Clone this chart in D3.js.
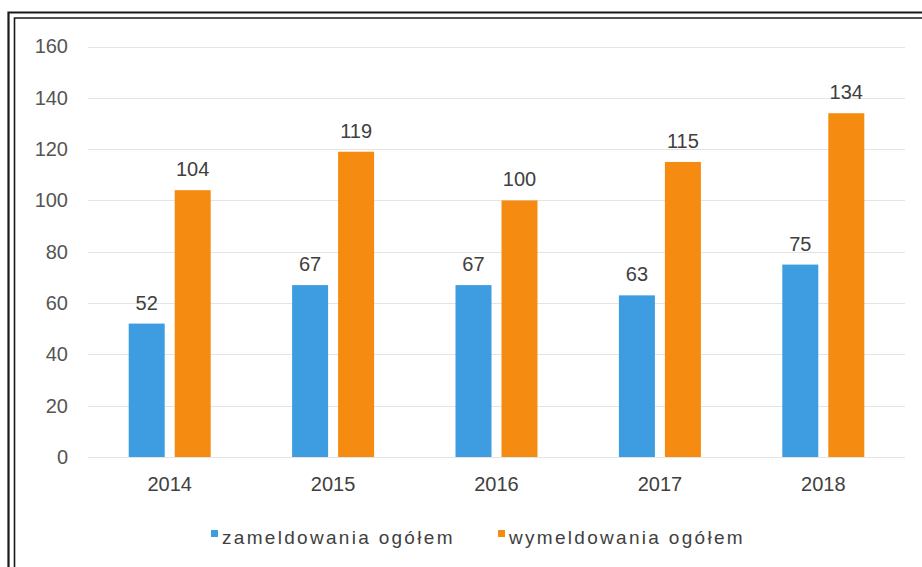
<!DOCTYPE html>
<html>
<head>
<meta charset="utf-8">
<script src="https://cdn.jsdelivr.net/npm/d3@7"></script>
<style>
  html, body { margin: 0; padding: 0; background: #fff; }
  svg { display: block; font-family: "Liberation Sans", Arial, sans-serif; }
</style>
</head>
<body>
<svg id="chart" width="922" height="567"></svg>
<script>
const years = ["2014", "2015", "2016", "2017", "2018"];
const seriesNames = ["zameldowania ogółem", "wymeldowania ogółem"];
const zameldowania = [52, 67, 67, 63, 75];
const wymeldowania = [104, 119, 100, 115, 134];
const yTicks = [0, 20, 40, 60, 80, 100, 120, 140, 160];
const colors = ["#3d9de0", "#f68b12"];

const seriesValues = [zameldowania, wymeldowania];
const svg = d3.select("#chart");

// frame (double line)
svg.append("path").attr("d", "M8.5,567 L8.5,12.5 L922,12.5")
  .attr("fill", "none").attr("stroke", "#1a1a1a").attr("stroke-width", 2.2);
svg.append("path").attr("d", "M14.5,567 L14.5,18 L922,18")
  .attr("fill", "none").attr("stroke", "#1a1a1a").attr("stroke-width", 1.6);

const plotLeft = 88, plotRight = 905, plotTop = 46.5, plotBottom = 457;
const y = d3.scaleLinear().domain([0, 160]).range([plotBottom, plotTop]);
const x0 = d3.scaleBand().domain(years).range([plotLeft, plotRight]).paddingInner(0).paddingOuter(0);
const bw = x0.bandwidth();
const x1 = d3.scaleBand().domain(seriesNames)
  .range([bw / 2 - 41, bw / 2 + 41]).paddingInner(10 / 46).paddingOuter(0);

// gridlines
const grid = svg.append("g");
grid.selectAll("line").data(yTicks).join("line")
  .attr("x1", plotLeft).attr("x2", plotRight)
  .attr("y1", d => Math.round(y(d)) + 0.5).attr("y2", d => Math.round(y(d)) + 0.5)
  .attr("stroke", "#e4e4e4").attr("stroke-width", 1);

// y axis labels
const yAxis = svg.append("g").attr("transform", "translate(68,0)")
  .call(d3.axisLeft(y).tickValues(yTicks).tickSize(0).tickPadding(0));
yAxis.select(".domain").remove();
yAxis.selectAll("text").attr("font-size", 20).attr("fill", "#555")
  .attr("font-family", "Liberation Sans, Arial, sans-serif");

// x axis labels
const xAxis = svg.append("g").attr("transform", `translate(0,${plotBottom})`)
  .call(d3.axisBottom(x0).tickSize(0).tickPadding(20));
xAxis.select(".domain").remove();
xAxis.selectAll("text").attr("font-size", 20).attr("fill", "#404040")
  .attr("font-family", "Liberation Sans, Arial, sans-serif");

// bars
const groups = svg.append("g").selectAll("g").data(years).join("g")
  .attr("transform", d => `translate(${x0(d)},0)`);
groups.selectAll("rect")
  .data((d, i) => seriesNames.map((s, j) => ({ s, j, v: seriesValues[j][i] })))
  .join("rect")
  .attr("x", d => x1(d.s)).attr("width", x1.bandwidth())
  .attr("y", d => y(d.v)).attr("height", d => y(0) - y(d.v))
  .attr("fill", d => colors[d.j]);
groups.selectAll("text")
  .data((d, i) => seriesNames.map((s, j) => ({ s, j, v: seriesValues[j][i] })))
  .join("text")
  .attr("x", d => x1(d.s) + x1.bandwidth() / 2)
  .attr("y", d => y(d.v) - 14)
  .attr("text-anchor", "middle")
  .attr("font-size", 20).attr("fill", "#404040")
  .text(d => d.v);

// legend
const legendX = [211, 498];
const legend = svg.append("g").selectAll("g").data(seriesNames).join("g")
  .attr("transform", (d, i) => `translate(${legendX[i]},0)`);
legend.append("rect").attr("x", 0).attr("y", 530).attr("width", 7).attr("height", 7)
  .attr("fill", (d, i) => colors[i]);
legend.append("text").attr("x", 11).attr("y", 544)
  .attr("font-size", 19).attr("letter-spacing", 2.3).attr("fill", "#404040")
  .text(d => d);
</script>
</body>
</html>
